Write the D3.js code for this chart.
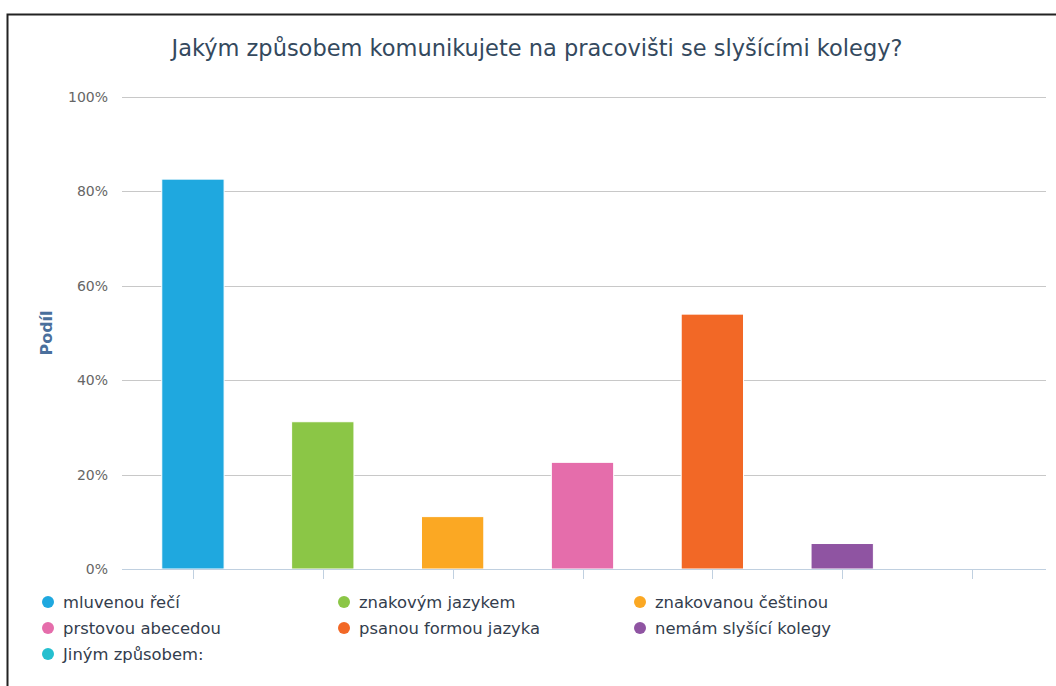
<!DOCTYPE html>
<html>
<head>
<meta charset="utf-8">
<script src="https://cdn.jsdelivr.net/npm/d3@7"></script>
<style>
  body { margin: 0; background: #fff; }
  svg { display: block; font-family: "DejaVu Sans", sans-serif; }
</style>
</head>
<body>
<script>
const categories = [
  "mluvenou řečí",
  "znakovým jazykem",
  "znakovanou češtinou",
  "prstovou abecedou",
  "psanou formou jazyka",
  "nemám slyšící kolegy",
  "Jiným způsobem:"
];
const values = [82.6, 31.2, 11.1, 22.6, 54.0, 5.4, 0];
const colors = ["#1fa8df", "#8bc646", "#fba823", "#e56dab", "#f26826", "#8f54a2", "#25bfcf"];
const yTicks = [0, 20, 40, 60, 80, 100];

const width = 1056, height = 686;
const plot = {left: 122, right: 1046, top: 97, bottom: 569};

const svg = d3.select("body").append("svg")
  .attr("width", width)
  .attr("height", height);

svg.append("rect").attr("width", width).attr("height", height).attr("fill", "#fff");

// outer frame (left and top edges visible)
svg.append("path")
  .attr("d", "M7.5,686 V14.5 H1056")
  .attr("fill", "none")
  .attr("stroke", "#222")
  .attr("stroke-width", 2);

// title
svg.append("text")
  .attr("x", 537)
  .attr("y", 56)
  .attr("text-anchor", "middle")
  .attr("font-size", 22.5)
  .attr("fill", "#34495e")
  .text("Jakým způsobem komunikujete na pracovišti se slyšícími kolegy?");

const xScale = d3.scaleBand()
  .domain(categories)
  .range([128, 1037])
  .paddingInner(0.52)
  .paddingOuter(0.26);

const yScale = d3.scaleLinear()
  .domain([0, 100])
  .range([plot.bottom, plot.top]);

// grid lines + y labels
const yAxis = svg.append("g").attr("class", "y-axis");
yAxis.selectAll("line")
  .data(yTicks.filter(d => d > 0))
  .enter().append("line")
  .attr("x1", plot.left).attr("x2", plot.right)
  .attr("y1", d => Math.round(yScale(d)) + 0.5)
  .attr("y2", d => Math.round(yScale(d)) + 0.5)
  .attr("stroke", "#c8c8c8")
  .attr("stroke-width", 1);

yAxis.selectAll("text")
  .data(yTicks)
  .enter().append("text")
  .attr("x", 108)
  .attr("y", d => yScale(d) + 5)
  .attr("text-anchor", "end")
  .attr("font-size", 14)
  .attr("fill", "#666")
  .text(d => d + "%");

// y axis title
svg.append("text")
  .attr("transform", `translate(52, ${(plot.top + plot.bottom) / 2}) rotate(-90)`)
  .attr("text-anchor", "middle")
  .attr("font-size", 16)
  .attr("font-weight", "bold")
  .attr("fill", "#4a6f9c")
  .text("Podíl");

// bars
svg.append("g").attr("class", "bars")
  .selectAll("rect")
  .data(values)
  .enter().append("rect")
  .attr("x", (d, i) => xScale(categories[i]))
  .attr("y", d => yScale(d))
  .attr("width", xScale.bandwidth())
  .attr("height", d => plot.bottom - yScale(d))
  .attr("fill", (d, i) => colors[i])
  .attr("stroke", "#fff")
  .attr("stroke-width", 1);

// x axis line and ticks
svg.append("line")
  .attr("x1", plot.left).attr("x2", plot.right)
  .attr("y1", plot.bottom + 0.5).attr("y2", plot.bottom + 0.5)
  .attr("stroke", "#c0d0e0");

svg.append("g").selectAll("line")
  .data(categories)
  .enter().append("line")
  .attr("x1", d => Math.round(xScale(d) + xScale.bandwidth() / 2) + 0.5)
  .attr("x2", d => Math.round(xScale(d) + xScale.bandwidth() / 2) + 0.5)
  .attr("y1", plot.bottom)
  .attr("y2", plot.bottom + 10)
  .attr("stroke", "#c0d0e0");

// legend
const legend = svg.append("g").attr("class", "legend")
  .selectAll("g")
  .data(categories)
  .enter().append("g")
  .attr("transform", (d, i) => `translate(${48 + (i % 3) * 296}, ${602 + Math.floor(i / 3) * 26})`);

legend.append("circle")
  .attr("r", 6)
  .attr("fill", (d, i) => colors[i]);

legend.append("text")
  .attr("x", 15)
  .attr("y", 6)
  .attr("font-size", 16.4)
  .attr("fill", "#333d4d")
  .text(d => d);
</script>
</body>
</html>
